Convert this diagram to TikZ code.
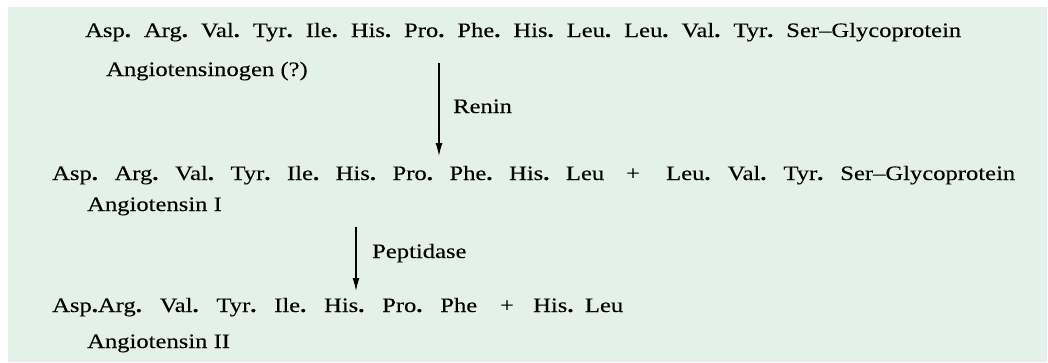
\documentclass[tikz,border=0pt]{standalone}
\usepackage{fontspec}
\setmainfont{Liberation Serif}[FakeStretch=1.2, FakeBold=0.15]
\usetikzlibrary{arrows.meta}

\definecolor{panelgreen}{RGB}{228,241,233}
\newcommand{\pd}{\textbf{.}}

\tikzset{
  seq/.style={anchor=base west, inner sep=0pt, font=\fontsize{20.5}{24}\selectfont},
  react/.style={-{Latex[length=13pt,width=7pt]}, line width=1.2pt},
}

\begin{document}
\begin{tikzpicture}[x=1pt, y=-1pt]
  \useasboundingbox[fill=white] (0,0) rectangle (1048,362);
  \fill[panelgreen] (8,7) rectangle (1047,362);

  % precursor
  \node[seq] (prec) at (85,37) {\makebox[876pt][s]{Asp\pd{} Arg\pd{} Val\pd{} Tyr\pd{} Ile\pd{} His\pd{} Pro\pd{} Phe\pd{} His\pd{} Leu\pd{} Leu\pd{} Val\pd{} Tyr\pd{} Ser--Glycoprotein}};
  \node[seq] (precname) at (106,76) {Angiotensinogen (?)};

  \coordinate (ren-a) at (439,63);
  \coordinate (ren-b) at (439,156);
  \draw[react] (ren-a) -- (ren-b);
  \node[seq] (renin) at (453,113) {Renin};

  % angiotensin I
  \node[seq] (angI) at (52,180) {\makebox[552pt][s]{Asp\pd{} Arg\pd{} Val\pd{} Tyr\pd{} Ile\pd{} His\pd{} Pro\pd{} Phe\pd{} His\pd{} Leu}};
  \node[seq, anchor=base] (plusI) at (633,180) {+};
  \node[seq] (restI) at (666,180) {\makebox[349pt][s]{Leu\pd{} Val\pd{} Tyr\pd{} Ser--Glycoprotein}};
  \node[seq] (angIname) at (87,211) {Angiotensin I};

  \coordinate (pep-a) at (356,227);
  \coordinate (pep-b) at (356,291);
  \draw[react] (pep-a) -- (pep-b);
  \node[seq] (pept) at (372,258) {Peptidase};

  % angiotensin II
  \node[seq] (angII) at (52,312) {\makebox[425pt][s]{Asp\pd{}Arg\pd{} Val\pd{} Tyr\pd{} Ile\pd{} His\pd{} Pro\pd{} Phe}};
  \node[seq, anchor=base] (plusII) at (507,312) {+};
  \node[seq] (restII) at (533,312) {\makebox[90pt][s]{His\pd{} Leu}};
  \node[seq] (angIIname) at (87,348) {Angiotensin II};
\end{tikzpicture}
\end{document}
